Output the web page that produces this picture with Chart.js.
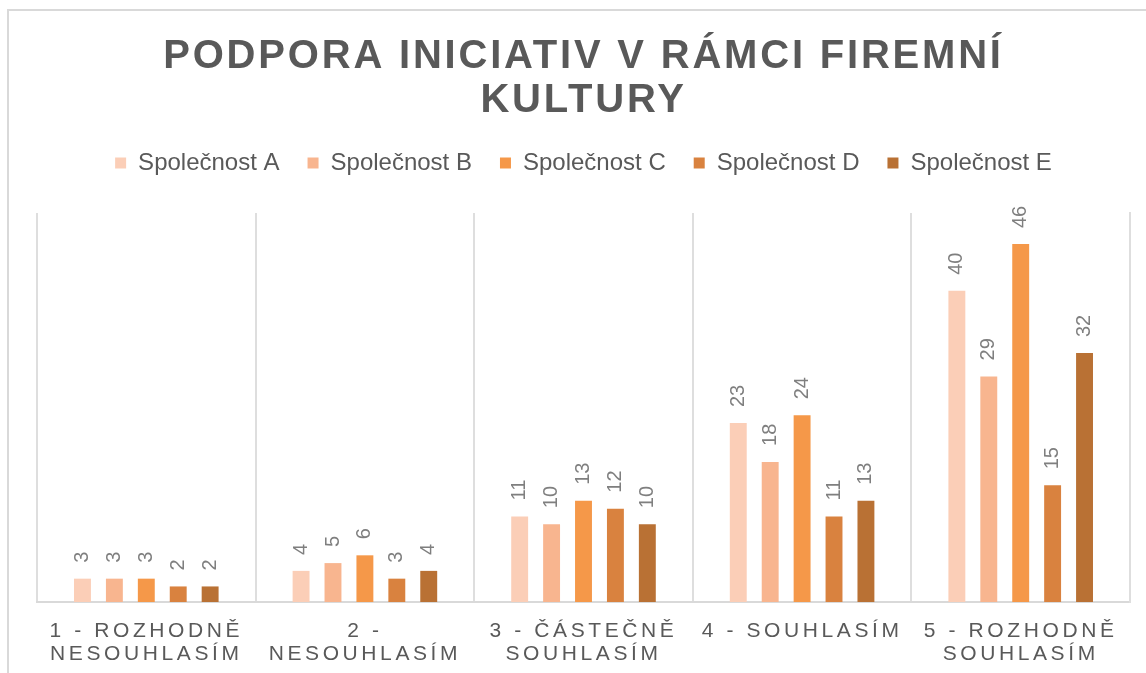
<!DOCTYPE html>
<html>
<head>
<meta charset="utf-8">
<script src="https://cdn.jsdelivr.net/npm/chart.js@4.4.0/dist/chart.umd.min.js"></script>
<style>
    html, body { margin: 0; padding: 0; background: #fff; }
    .wrap { position: relative; width: 1146px; height: 673px; overflow: hidden; }
    .frame {
        position: absolute; left: 7px; top: 9px; right: -10px; bottom: -10px;
        border-top: 2px solid #d9d9d9; border-left: 2px solid #d9d9d9;
        pointer-events: none;
    }
    canvas { position: absolute; left: 0; top: 0; }
</style>
</head>
<body>
<div class="wrap">
    <canvas id="chart" width="1146" height="673"></canvas>
    <div class="frame"></div>
</div>
<script>
// 데이터
const titleLines = ['PODPORA INICIATIV V RÁMCI FIREMNÍ', 'KULTURY'];
const categories = [
    ['1 - ROZHODNĚ', 'NESOUHLASÍM'],
    ['2 -', 'NESOUHLASÍM'],
    ['3 - ČÁSTEČNĚ', 'SOUHLASÍM'],
    '4 - SOUHLASÍM',
    ['5 - ROZHODNĚ', 'SOUHLASÍM']
];
const seriesNames = ['Společnost A', 'Společnost B', 'Společnost C', 'Společnost D', 'Společnost E'];
const valuesA = [3, 4, 11, 23, 40];
const valuesB = [3, 5, 10, 18, 29];
const valuesC = [3, 6, 13, 24, 46];
const valuesD = [2, 3, 12, 11, 15];
const valuesE = [2, 4, 10, 13, 32];
const seriesColors = ['#fbceb7', '#f8b58f', '#f59849', '#d9823f', '#b97134'];

const fontFamily = '"Liberation Sans", Arial, sans-serif';
Chart.defaults.font.family = fontFamily;

// 막대 위 세로 라벨
const barLabels = {
    id: 'barLabels',
    afterDatasetsDraw(chart) {
        const ctx = chart.ctx;
        ctx.save();
        ctx.font = '20px ' + fontFamily;
        ctx.fillStyle = '#7f7f7f';
        ctx.textAlign = 'left';
        ctx.textBaseline = 'middle';
        chart.data.datasets.forEach((ds, i) => {
            chart.getDatasetMeta(i).data.forEach((bar, j) => {
                ctx.save();
                ctx.translate(bar.x, bar.y - 16);
                ctx.rotate(-Math.PI / 2);
                ctx.fillText(String(ds.data[j]), 0, 0);
                ctx.restore();
            });
        });
        ctx.restore();
    }
};

// 제목, x축 글자 간격
const letterSpacing = {
    id: 'letterSpacing',
    beforeDraw(chart) {
        if (chart._spaced) return;
        chart._spaced = true;
        const wrap = (obj, key, px) => {
            const orig = obj[key];
            obj[key] = function(...args) {
                const ctx = chart.ctx;
                const prev = ctx.letterSpacing;
                ctx.letterSpacing = px;
                orig.apply(this, args);
                ctx.letterSpacing = prev;
            };
        };
        wrap(chart.titleBlock, 'draw', '2.8px');
        wrap(chart.scales.x, 'drawLabels', '3.6px');
    }
};

const allValues = [valuesA, valuesB, valuesC, valuesD, valuesE];

new Chart(document.getElementById('chart'), {
    type: 'bar',
    data: {
        labels: categories,
        datasets: seriesNames.map((name, i) => ({
            label: name,
            data: allValues[i],
            backgroundColor: seriesColors[i],
            borderWidth: 0,
            barPercentage: 0.53,
            categoryPercentage: 0.73
        }))
    },
    options: {
        responsive: false,
        animation: false,
        devicePixelRatio: 1,
        layout: { padding: { top: 0, left: 37, right: 16, bottom: 0 } },
        plugins: {
            title: {
                display: true,
                text: titleLines,
                color: '#595959',
                font: { size: 40, weight: 'bold', lineHeight: 1.1 },
                padding: { top: 35, bottom: 0 }
            },
            subtitle: {
                display: true,
                text: '',
                weight: 500,
                font: { size: 1, lineHeight: 1 },
                padding: { top: 14, bottom: 13 }
            },
            legend: {
                position: 'top',
                labels: {
                    color: '#595959',
                    font: { size: 24 },
                    boxWidth: 11,
                    boxHeight: 11,
                    padding: 28
                }
            },
            tooltip: { enabled: false }
        },
        scales: {
            x: {
                grid: { color: '#dedede', lineWidth: 2, drawTicks: false },
                border: { display: true, color: '#d9d9d9', width: 2 },
                ticks: {
                    color: '#595959',
                    font: { size: 21, lineHeight: 1.1 },
                    padding: 18,
                    autoSkip: false,
                    maxRotation: 0
                },
                afterFit(scale) {
                    scale.height = 71;
                }
            },
            y: {
                position: 'right',
                min: 0,
                max: 50,
                grid: { display: false },
                border: { display: true, color: '#dedede', width: 2 },
                ticks: { display: false },
                afterFit(scale) {
                    scale.width = 0;
                }
            }
        }
    },
    plugins: [barLabels, letterSpacing]
});
</script>
</body>
</html>
